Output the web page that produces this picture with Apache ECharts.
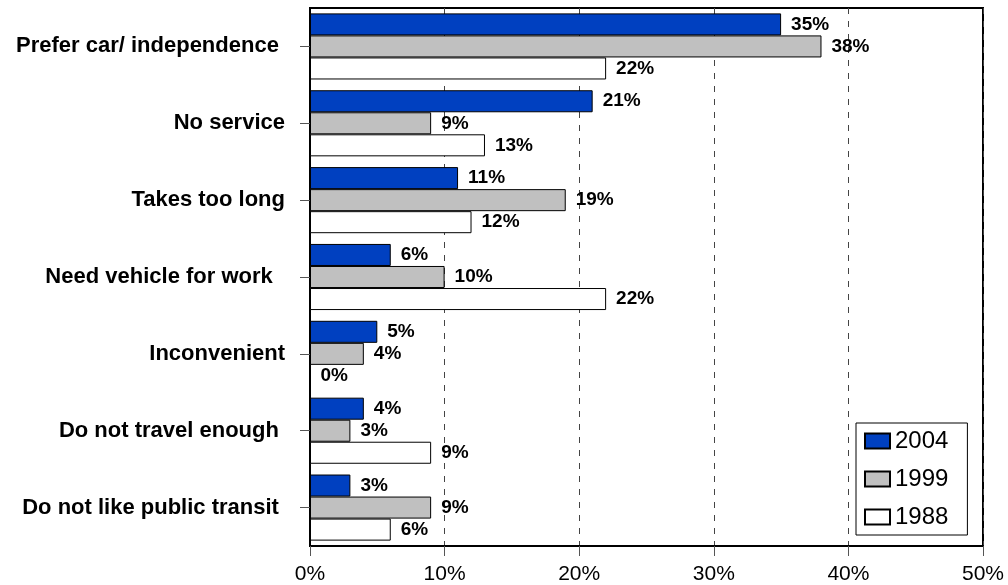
<!DOCTYPE html>
<html>
<head>
<meta charset="utf-8">
<script src="https://cdn.jsdelivr.net/npm/echarts@6/dist/echarts.min.js"></script>
<style>
  html, body { margin: 0; padding: 0; background: #fff; }
  #main { width: 1008px; height: 585px; }
</style>
</head>
<body>
<div id="main"></div>
<script>
// 数据
var categories = ['Prefer car/ independence ', 'No service', 'Takes too long', 'Need vehicle for work  ',
  'Inconvenient', 'Do not travel enough ', 'Do not like public transit '];
var years = ['2004', '1999', '1988'];
var v2004 = [35, 21, 11, 6, 5, 4, 3];
var v1999 = [38, 9, 19, 10, 4, 3, 9];
var v1988 = [22, 13, 12, 22, 0, 9, 6];
var xTicks = [0, 10, 20, 30, 40, 50];

var colors = ['#0040c0', '#c0c0c0', '#ffffff'];
var font = "'Liberation Sans', Arial, sans-serif";

function makeSeries(name, data, color) {
  return {
    name: name,
    type: 'bar',
    data: data,
    barGap: '0%',
    barCategoryGap: '14%',
    itemStyle: { color: color, borderColor: '#000', borderWidth: 1 },
    label: {
      show: true,
      position: 'right',
      distance: 10,
      formatter: '{c}%',
      color: '#000',
      fontFamily: font,
      fontWeight: 'bold',
      fontSize: 19
    }
  };
}

var myChart = echarts.init(document.getElementById('main'));

var option = {
  backgroundColor: '#fff',
  animation: false,
  grid: {
    left: 310, right: 25, top: 8, bottom: 39,
    show: true, borderColor: '#000', borderWidth: 2
  },
  legend: {
    data: years,
    orient: 'vertical',
    icon: 'rect',
    left: 856,
    top: 423,
    padding: [6, 19, 6, 8],
    itemWidth: 25,
    itemHeight: 15,
    itemGap: 14,
    borderColor: '#000',
    borderWidth: 1,
    backgroundColor: '#fff',
    textStyle: { fontFamily: font, fontSize: 24, color: '#000' }
  },
  xAxis: {
    type: 'value',
    min: xTicks[0],
    max: xTicks[xTicks.length - 1],
    interval: 10,
    axisLine: { show: true, lineStyle: { color: '#000', width: 2 } },
    axisTick: { show: true, length: 10, lineStyle: { color: '#555' } },
    axisLabel: {
      formatter: '{value}%',
      margin: 18,
      color: '#000',
      fontFamily: font,
      fontSize: 21
    },
    splitLine: { show: true, lineStyle: { color: '#444', type: [6, 7], width: 1 } }
  },
  yAxis: {
    type: 'category',
    inverse: true,
    data: categories,
    axisLine: { show: true, lineStyle: { color: '#000', width: 2 } },
    axisTick: { show: true, alignWithLabel: true, length: 10, lineStyle: { color: '#555' } },
    axisLabel: {
      margin: 25,
      color: '#000',
      fontFamily: font,
      fontWeight: 'bold',
      fontSize: 22
    }
  },
  series: [
    makeSeries(years[0], v2004, colors[0]),
    makeSeries(years[1], v1999, colors[1]),
    makeSeries(years[2], v1988, colors[2])
  ]
};

myChart.setOption(option);
</script>
</body>
</html>
